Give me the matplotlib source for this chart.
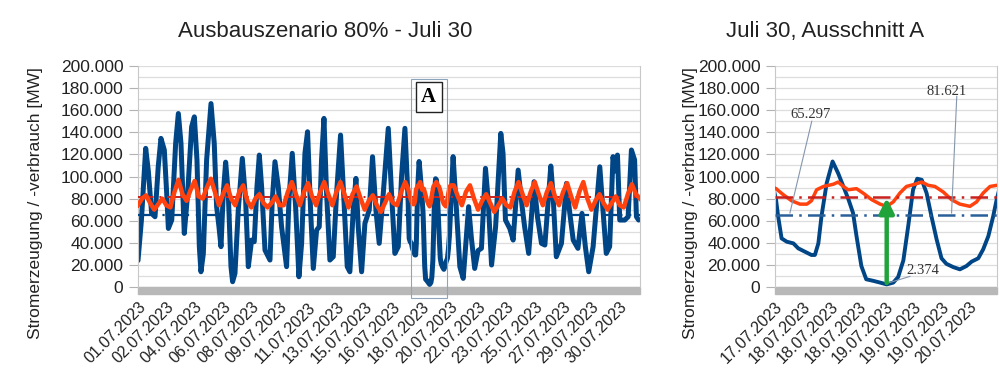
import matplotlib
matplotlib.use('Agg')
import matplotlib.pyplot as plt
from matplotlib.patches import Rectangle
from matplotlib.ticker import FuncFormatter
import numpy as np

plt.rcParams['font.family'] = ['Liberation Sans', 'DejaVu Sans']

gen_hours = [0, 5, 11.4, 15.3, 20.2, 25.2, 30, 34, 39, 42.5, 45, 50, 55.8, 59.8, 63.7, 68.6,
             73.6, 79.5, 83.5, 87.4, 90.9, 93.3, 96.8, 101.7, 108.2, 113, 116.5, 120, 123,
             126.4, 129.9, 133.8, 137.8, 140.2, 143.7, 148.6, 154.6, 159.5, 163.5, 168.4,
             172.3, 176.3, 179.8, 183.2, 188.2, 195.6, 199, 203, 207.9, 212.8, 220.2, 223.7,
             228.6, 233.6, 238.5, 242.5, 247.4, 251.3, 255.8, 259.8, 264.7, 268.6, 272,
             275.6, 279.5, 284.4, 289.4, 294.3, 300.2, 305.2, 310.1, 314, 319, 323, 326.4,
             331.4, 336.3, 342.7, 347.6, 352.6, 357.5, 363.5, 370.9, 375.8, 380.7, 385.7,
             390.6, 395.6,
             400.3, 400.9, 401.9, 403.4, 405.3, 406.7, 408.6, 410.5, 411.5, 412.5, 413.4,
             414.9, 416.6, 418.2, 419.7, 421.1, 422.5, 423.5, 424.9, 426.3, 428.3, 430.3,
             432.2, 434.1, 435.5, 437, 438.4, 439.8, 441, 442.3, 443.7, 445.1, 446.6, 448,
             449.4, 451.4, 453.3, 455.2, 456.7, 458.6, 460, 461.5, 462.9, 463.9,
             467, 472, 477, 482, 486, 490, 494, 499, 504, 509, 515, 519, 524, 530, 537.7,
             541, 544.6, 551, 556, 563.4, 569.3, 573, 579, 587, 592, 598, 603, 611.8, 615,
             620, 627.6, 635, 640, 645, 652, 658, 663, 668, 674.5, 684.4, 688, 694, 699,
             704, 707, 710.6, 714, 721.4, 726.4, 731.3, 736, 738.7, 742]
gen_mw = [24000, 60000, 125500, 105000, 66600, 63600, 109000, 134500, 124000, 85000, 53000,
          60600, 130000, 157000, 130000, 48500, 84700, 145000, 154000, 115000, 36500, 13800,
          30000, 115000, 166000, 130000, 72700, 54500, 36500, 84700, 113000, 84700, 18400,
          4800, 12300, 69600, 116400, 78700, 18400, 42500, 41000, 90700, 119400, 90700,
          33400, 24400, 78700, 113400, 90700, 54500, 18400, 78700, 121000, 72700, 9300,
          39500, 121000, 140500, 69600, 16800, 51500, 54500, 115000, 152600, 84700, 24400,
          27400, 84700, 137500, 78700, 18400, 13800, 69600, 98300, 54500, 13800, 57600,
          69600, 117900, 69600, 39500, 84700, 143600, 84700, 30400, 36500, 99800, 143600,
          79000, 64000, 44000, 41000, 39500, 35000, 32000, 29000, 29000, 39500, 64000,
          94000, 113600, 103000, 91000, 80000, 67000, 46000, 19000, 7000, 5600, 4000,
          2374, 4000, 9000, 24000, 55000, 88000, 98000, 97000, 85000, 64000, 43000, 26000,
          21000, 18000, 16000, 19000, 23000, 26000, 34000, 46000, 64000, 79000,
          118000, 69600, 18400, 7800, 40000, 72700, 45000, 16800, 33000, 35000, 107400,
          78700, 19900, 54500, 139000, 121000, 60600, 53000, 42500, 105800, 72700, 54500,
          30400, 95300, 63600, 39500, 38000, 109500, 84700, 27400, 39500, 93800, 66600,
          42500, 35000, 66600, 36500, 13800, 36500, 108800, 78700, 30400, 36500, 118000,
          105000, 119400, 60600, 60600, 63600, 124000, 115000, 63600, 60600]

# Stromverbrauch (MW): 6-Stunden-Werte bis 17.07. 12:00, Detail im Ausschnitt, 6-Stunden-Werte ab 20.07. 12:00
dem_a_mw = [74000, 80000, 83000, 76000, 70000, 75000, 80000, 74000, 72000, 86000, 97000, 84000,
            78000, 88000, 96000, 82000, 80000, 90000, 98000, 86000, 74000, 84000, 92000, 80000,
            74000, 86000, 92000, 78000, 72000, 80000, 84000, 76000, 72000, 76000, 82000, 74000,
            74000, 86000, 95000, 84000, 74000, 86000, 94000, 82000, 74000, 86000, 95000, 84000,
            74000, 86000, 95000, 84000, 72000, 84000, 91000, 80000, 70000, 78000, 83000, 74000,
            68000, 76000, 84000, 76000, 74000, 86000, 95000]
dem_win_hours = [400.3, 402.2, 404.8, 407.2, 409.2, 410.5, 412, 414, 416.8, 418.2, 419.7, 421.1,
                 423.5, 425.4, 427.9, 430.3, 432.2, 434.1, 436, 437.9, 440.3, 442.3, 444.2,
                 446.1, 448.5, 450.9, 453.3, 456.2, 458.1, 460, 462, 463.9]
dem_win_mw = [89000, 84000, 78000, 75000, 75000, 78000, 88000, 91000, 93000, 95000, 91000, 88000,
              89000, 85000, 79000, 75000, 73000, 77000, 85000, 91000, 93000, 95000, 92000,
              91000, 86000, 79000, 75000, 73000, 77000, 85000, 91000, 92000]
dem_b_mw = [92000, 82000, 74000, 86000, 92000, 80000, 70000, 78000, 84000, 76000, 68000, 74000,
            80000, 74000, 72000, 86000, 95000, 84000, 74000, 86000, 95000, 84000, 74000, 86000,
            94000, 82000, 74000, 86000, 94000, 82000, 72000, 86000, 95000, 80000, 70000, 78000,
            84000, 76000, 70000, 76000, 82000, 74000, 72000, 84000, 93000, 84000, 80000]

mean_gen = 65297
mean_dem = 81621
min_gen = 2374

left_labels = ['01.07.2023', '02.07.2023', '04.07.2023', '06.07.2023', '08.07.2023',
               '09.07.2023', '11.07.2023', '13.07.2023', '15.07.2023', '16.07.2023',
               '18.07.2023', '20.07.2023', '22.07.2023', '23.07.2023', '25.07.2023',
               '27.07.2023', '29.07.2023', '30.07.2023']
right_labels = ['17.07.2023', '18.07.2023', '18.07.2023', '18.07.2023', '19.07.2023',
                '19.07.2023', '19.07.2023', '20.07.2023']

dem_hours = list(np.arange(0, 397, 6)) + dem_win_hours + list(np.arange(468, 745, 6))
dem_mw = dem_a_mw + dem_win_mw + dem_b_mw

BLUE = '#004586'
ORANGE = '#ff420e'
GRID = '#dddddd'

fig = plt.figure(figsize=(10, 3.78), dpi=100)
ax1 = fig.add_axes([0.138, 0.2407, 0.502, 0.5847])
ax2 = fig.add_axes([0.775, 0.2407, 0.222, 0.5847])


def style(ax, xlim, ticks, labels):
    ax.set_xlim(*xlim)
    ax.set_ylim(0, 200000)
    ax.set_yticks(range(0, 200001, 20000))
    ax.set_yticks(range(0, 200001, 10000), minor=True)
    ax.yaxis.set_major_formatter(FuncFormatter(lambda v, p: f'{int(v):,}'.replace(',', '.')))
    ax.grid(axis='y', which='both', color=GRID, lw=0.9)
    ax.set_axisbelow(True)
    ax.tick_params(axis='y', which='major', length=6.5, color='#b3b3b3', pad=4,
                   labelsize=12.5, labelcolor='#222222')
    ax.tick_params(axis='y', which='minor', length=0)
    ax.set_xticks(ticks)
    ax.set_xticklabels(labels, rotation=45, ha='right', va='top', rotation_mode='anchor')
    ax.tick_params(axis='x', length=0, pad=9, labelsize=11.5, labelcolor='#222222')
    for s in ['left', 'right']:
        ax.spines[s].set_color('#c8c8c8')
    ax.spines['top'].set_visible(False)
    ax.spines['bottom'].set_visible(False)
    ax.add_patch(Rectangle((0, -0.032), 1, 0.032, transform=ax.transAxes, color='#b8b8b8',
                           clip_on=False, zorder=1))


# linkes Diagramm: ganzer Monat
ax1.plot(gen_hours, gen_mw, color=BLUE, lw=3.6, zorder=2, solid_joinstyle='round',
         solid_capstyle='round')
ax1.axhline(mean_gen, color=BLUE, lw=1.6, ls=(0, (8, 3, 1, 3)), zorder=3)
ax1.axhline(mean_dem, color='#c9211e', lw=1.4, ls=(0, (8, 3, 1, 3)), zorder=3)
ax1.plot(dem_hours, dem_mw, color=ORANGE, lw=3.2, zorder=4, solid_joinstyle='round')
style(ax1, (0, 744), np.arange(0, 715, 42), left_labels)

ax1.add_patch(Rectangle((404, -10000), 54, 198000, fill=False, edgecolor='#8da4bd', lw=0.8,
                        clip_on=False, zorder=6))
ax1.text(431, 172000, 'A', family='Liberation Serif', weight='bold', fontsize=15,
         ha='center', va='center', zorder=7,
         bbox=dict(boxstyle='square,pad=0.25', fc='white', ec='#222222', lw=1))

# rechtes Diagramm: Ausschnitt A
ax2.plot(gen_hours, gen_mw, color=BLUE, lw=2.8, zorder=2, solid_joinstyle='round')
ax2.axhline(mean_gen, color='#2a6099', lw=1.8, ls=(0, (7, 2.5, 1, 2.5)), zorder=3)
ax2.plot(dem_hours, dem_mw, color=ORANGE, lw=2.5, zorder=3, solid_joinstyle='round')
ax2.axhline(mean_dem, color='#c9211e', lw=1.8, ls=(0, (7, 2.5, 1, 2.5)), zorder=4)
style(ax2, (400, 464), np.arange(400, 457, 8), right_labels)

ax2.annotate('', xy=(432.2, 80500), xytext=(432.2, 3600),
             arrowprops=dict(arrowstyle='-|>', lw=3.2, color='#1fa33a', mutation_scale=22,
                             shrinkA=0, shrinkB=0), zorder=8)

lead = '#8596ad'
ax2.plot([410.6, 404.3], [150000, 67000], color=lead, lw=0.8, zorder=5)
ax2.text(410.1, 156000, f'{mean_gen:,}'.replace(',', '.'), family='Liberation Serif',
         fontsize=10.5, color='#333333', ha='center', va='center', zorder=6)
ax2.plot([452.4, 450.9], [172500, 67000], color=lead, lw=0.8, zorder=5)
ax2.text(449.5, 177000, f'{mean_dem:,}'.replace(',', '.'), family='Liberation Serif',
         fontsize=10.5, color='#333333', ha='center', va='center', zorder=6)
ax2.plot([438.9, 432.6], [9600, 3600], color=lead, lw=0.8, zorder=5)
ax2.text(442.5, 14500, f'{min_gen:,}'.replace(',', '.'), family='Liberation Serif',
         fontsize=10.5, color='#333333', ha='center', va='center', zorder=6)

fig.text(0.325, 0.902, 'Ausbauszenario 80% - Juli 30', ha='center', va='baseline',
         fontsize=16, color='#222222')
fig.text(0.825, 0.902, 'Juli 30, Ausschnitt A', ha='center', va='baseline',
         fontsize=16, color='#222222')
fig.text(0.036, 0.463, 'Stromerzeugung / -verbrauch [MW]', rotation=90, ha='center',
         va='center', fontsize=12.5, color='#222222')
fig.text(0.690, 0.463, 'Stromerzeugung / -verbrauch [MW]', rotation=90, ha='center',
         va='center', fontsize=12.5, color='#222222')

fig.savefig('out.png', dpi=100)
